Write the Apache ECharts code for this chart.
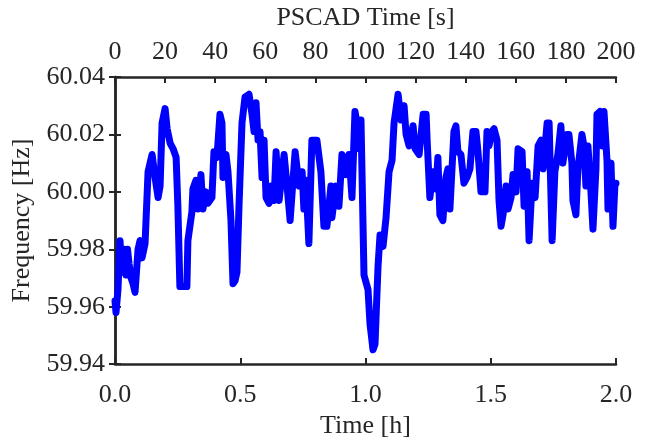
<!DOCTYPE html>
<html>
<head>
<meta charset="utf-8">
<script src="https://cdn.jsdelivr.net/npm/echarts@6/dist/echarts.min.js"></script>
<style>html,body{margin:0;padding:0;background:#fff}#c{width:647px;height:444px}</style>
</head>
<body>
<div id="c"></div>
<script>
// Time in hours
var timeH = [0.000,0.004,0.012,0.020,0.028,0.036,0.044,0.050,0.056,0.064,0.072,0.080,0.092,0.100,0.108,0.120,0.132,0.140,0.148,0.160,0.172,0.180,0.188,0.200,0.208,0.220,0.232,0.244,0.251,0.259,0.275,0.287,0.291,0.307,0.311,0.323,0.331,0.343,0.351,0.363,0.371,0.387,0.395,0.407,0.419,0.427,0.431,0.443,0.451,0.463,0.471,0.479,0.487,0.495,0.507,0.519,0.535,0.547,0.555,0.563,0.571,0.579,0.587,0.595,0.603,0.615,0.623,0.635,0.643,0.655,0.675,0.687,0.699,0.719,0.735,0.747,0.754,0.762,0.774,0.786,0.806,0.822,0.834,0.846,0.862,0.866,0.882,0.894,0.906,0.922,0.934,0.946,0.958,0.966,0.974,0.982,0.994,1.010,1.018,1.030,1.038,1.050,1.058,1.070,1.082,1.094,1.106,1.114,1.130,1.142,1.154,1.162,1.174,1.190,1.198,1.214,1.230,1.242,1.246,1.257,1.269,1.281,1.289,1.297,1.309,1.321,1.329,1.337,1.353,1.361,1.369,1.381,1.393,1.405,1.417,1.429,1.441,1.449,1.461,1.477,1.485,1.493,1.505,1.513,1.525,1.533,1.541,1.549,1.561,1.569,1.581,1.589,1.601,1.609,1.625,1.633,1.645,1.653,1.665,1.677,1.689,1.701,1.709,1.725,1.733,1.745,1.756,1.768,1.780,1.788,1.804,1.812,1.824,1.828,1.840,1.848,1.864,1.872,1.880,1.888,1.900,1.908,1.920,1.924,1.936,1.944,1.952,1.964,1.968,1.980,1.988,1.996,2.000];
// Frequency in Hz
var freqHz = [59.962,59.958,59.966,59.983,59.972,59.980,59.971,59.980,59.975,59.970,59.968,59.965,59.980,59.983,59.977,59.982,60.007,60.010,60.013,60.005,59.998,60.002,60.024,60.029,60.022,60.017,60.015,60.012,59.995,59.967,59.967,59.967,59.983,59.993,60.001,60.004,59.994,60.006,59.994,60.000,59.996,59.998,60.014,60.012,60.027,60.024,60.005,60.013,60.007,59.990,59.968,59.969,59.972,59.995,60.024,60.033,60.034,60.027,60.021,60.031,60.018,60.021,60.005,60.018,59.998,59.996,60.002,59.997,60.014,59.997,60.013,60.002,59.990,60.014,60.002,60.007,59.994,60.004,59.982,60.018,60.018,60.007,59.988,59.988,60.002,59.991,60.002,59.995,60.013,60.006,60.013,59.998,60.028,60.024,60.015,60.025,59.971,59.966,59.954,59.945,59.947,59.974,59.985,59.981,59.991,60.007,60.011,60.024,60.034,60.025,60.030,60.020,60.016,60.023,60.015,60.013,60.027,60.027,60.018,59.998,60.007,60.001,60.012,59.992,59.990,60.005,60.008,59.994,60.021,60.023,60.014,60.013,60.003,60.005,60.008,60.021,60.021,60.014,60.000,60.000,60.021,60.016,60.021,60.022,60.018,59.997,59.988,59.992,60.002,59.994,59.998,60.006,60.000,60.015,60.014,59.995,60.007,59.983,60.003,59.998,60.016,60.018,60.008,60.024,60.024,59.983,60.007,60.013,60.023,60.010,60.020,60.020,60.010,59.997,59.992,60.008,60.020,60.016,60.002,60.016,60.000,59.987,60.008,60.027,60.028,60.016,60.028,60.011,59.994,60.010,59.988,60.003,60.003];
var xLabel = 'Time [h]';
var x2Label = 'PSCAD Time [s]';
var yLabel = 'Frequency [Hz]';

var data = timeH.map(function (t, i) { return [t, freqHz[i]]; });
var FONT = 'Liberation Serif';
var AX = '#262626';
var fs = 26;
var lineCommon = { lineStyle: { color: AX, width: 2.5 } };
var tickCommon = { inside: true, length: 6, lineStyle: { color: AX, width: 2 } };

var chart = echarts.init(document.getElementById('c'), null, { renderer: 'canvas' });
chart.setOption({
  animation: false,
  backgroundColor: '#fff',
  grid: { left: 115, right: 31, top: 72, bottom: 72, containLabel: false },
  xAxis: [
    {
      type: 'value', position: 'bottom', min: 0, max: 2, interval: 0.5,
      name: xLabel, nameLocation: 'middle', nameGap: 47,
      nameTextStyle: { fontFamily: FONT, fontSize: fs, color: AX },
      axisLine: lineCommon, axisTick: tickCommon, splitLine: { show: false },
      axisLabel: { fontFamily: FONT, fontSize: fs, color: AX, margin: 18, formatter: function (v) { return v.toFixed(1); } }
    },
    {
      type: 'value', position: 'top', min: 0, max: 200, interval: 20,
      name: x2Label, nameLocation: 'middle', nameGap: 46,
      nameTextStyle: { fontFamily: FONT, fontSize: fs, color: AX },
      axisLine: lineCommon, axisTick: tickCommon, splitLine: { show: false },
      axisLabel: { fontFamily: FONT, fontSize: fs, color: AX, margin: 12 }
    }
  ],
  yAxis: [
    {
      type: 'value', position: 'left', min: 59.94, max: 60.04, interval: 0.02,
      name: yLabel, nameLocation: 'middle', nameGap: 66,
      nameTextStyle: { fontFamily: FONT, fontSize: fs, color: AX },
      axisLine: lineCommon, axisTick: tickCommon, splitLine: { show: false },
      axisLabel: { fontFamily: FONT, fontSize: fs, color: AX, margin: 10, formatter: function (v) { return v.toFixed(2); } }
    },
    {
      type: 'value', position: 'right', min: 59.94, max: 60.04, interval: 0.02,
      axisLine: lineCommon, axisTick: tickCommon, splitLine: { show: false },
      axisLabel: { show: false }
    }
  ],
  series: [{
    type: 'line', xAxisIndex: 0, yAxisIndex: 0, data: data,
    showSymbol: false, symbol: 'none', clip: true,
    lineStyle: { color: '#0000ff', width: 7, join: 'round', cap: 'round' }
  }]
});
</script>
</body>
</html>
